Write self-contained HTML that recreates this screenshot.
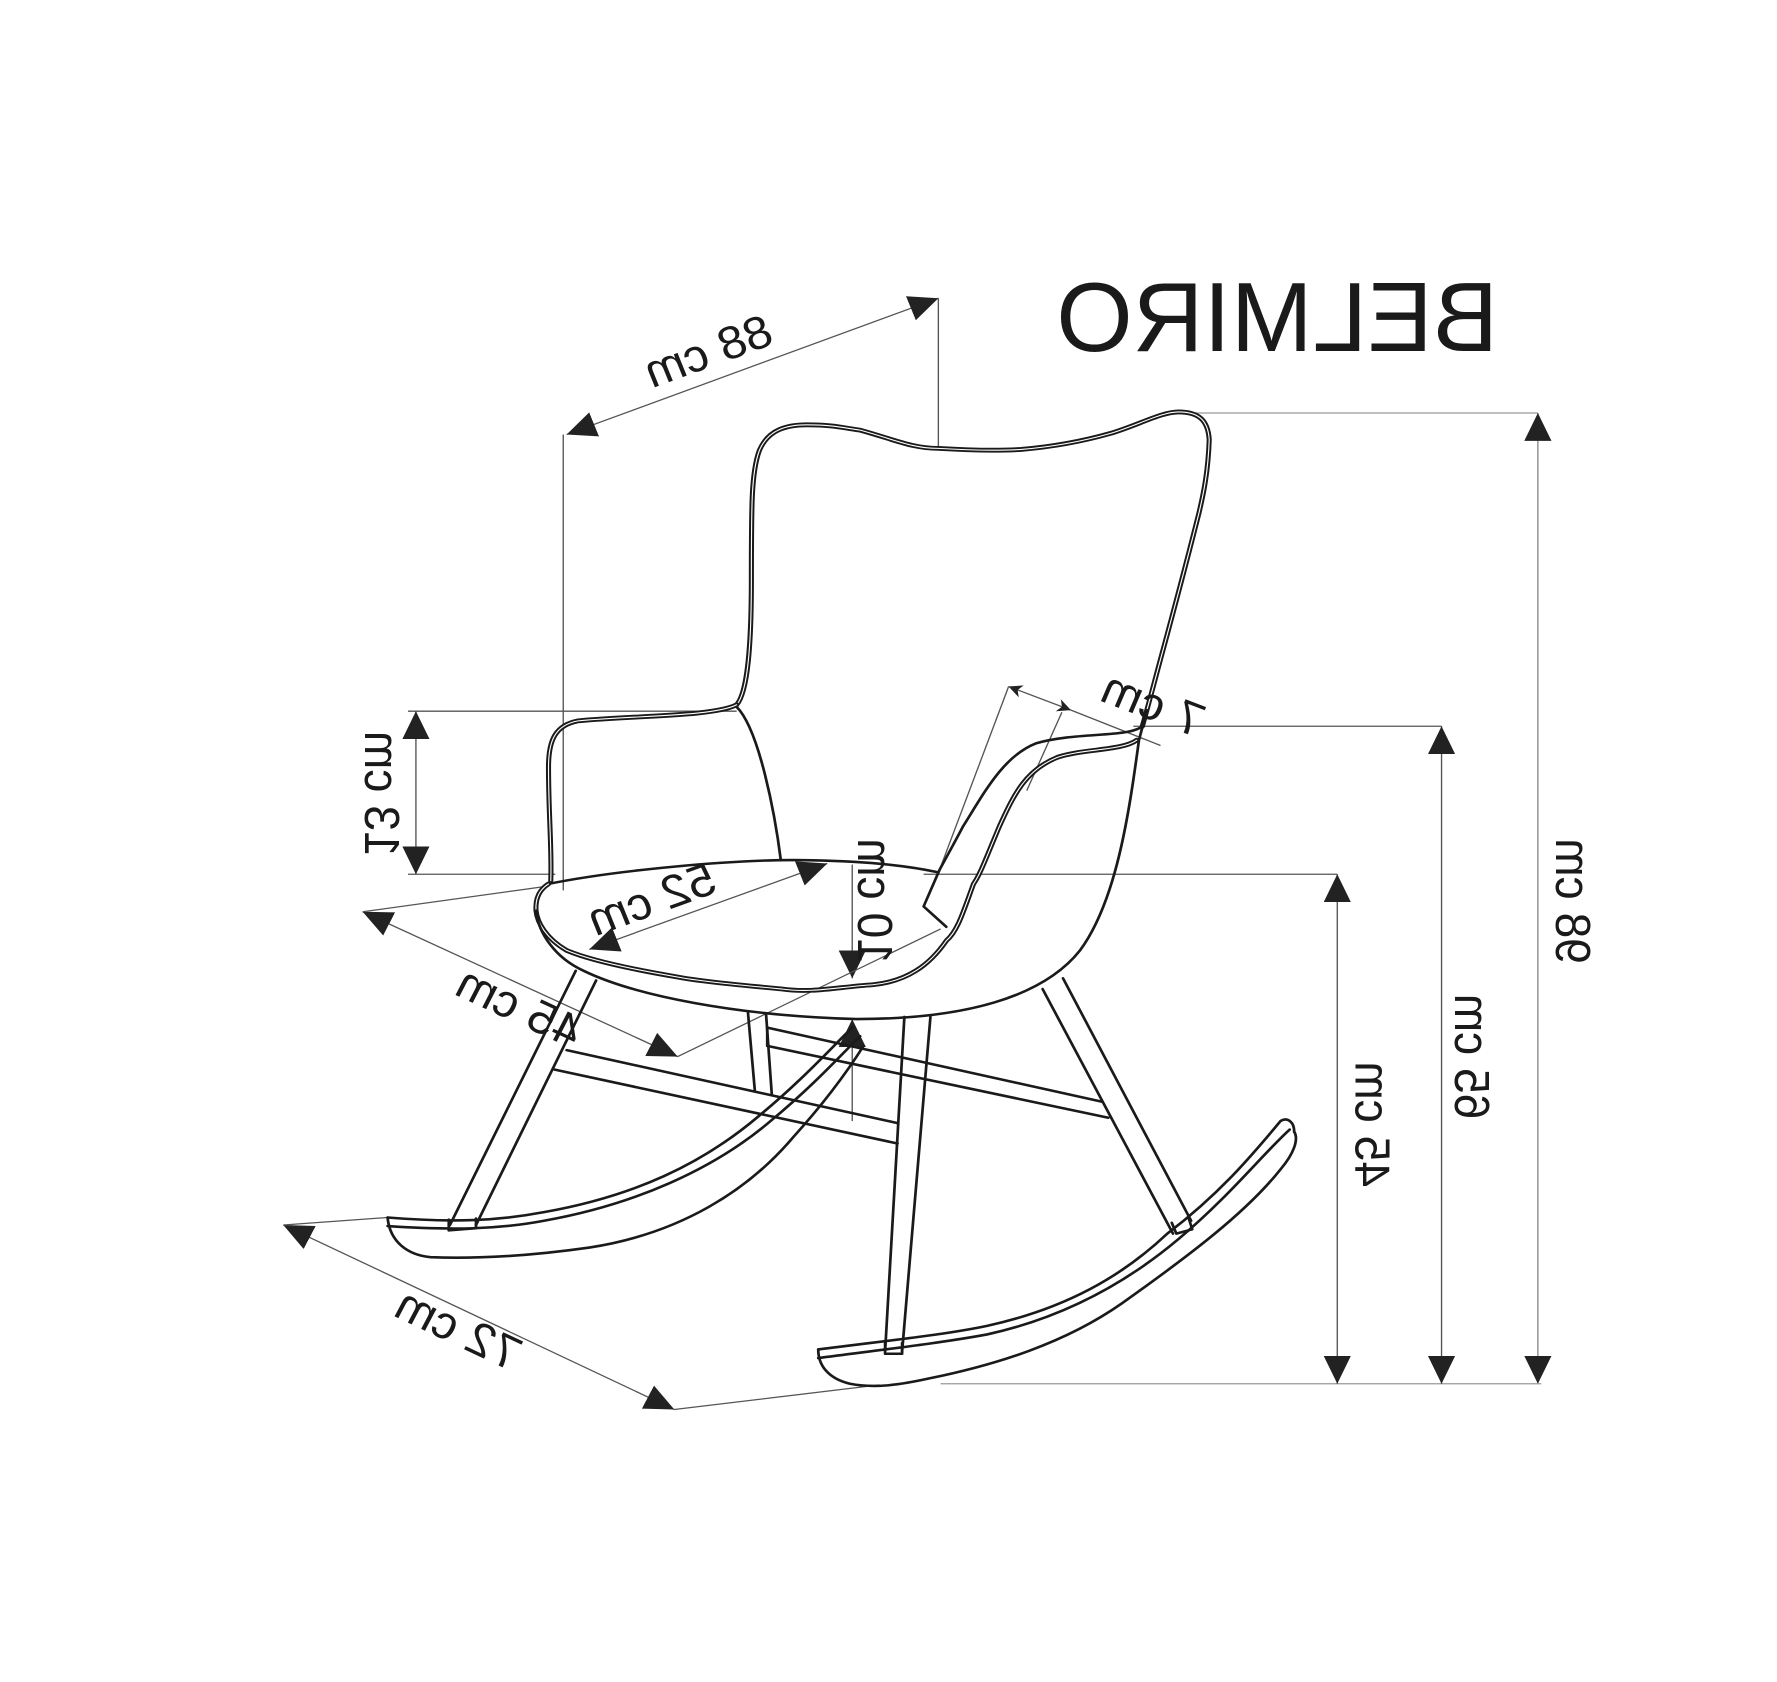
<!DOCTYPE html>
<html><head><meta charset="utf-8"><style>
html,body{margin:0;padding:0;background:#fff;}
svg{display:block;}
text{font-family:"Liberation Sans",Arial,sans-serif;fill:#1a1a1a;}
</style></head><body>
<svg width="1777" height="1682" viewBox="0 0 1777 1682" xmlns="http://www.w3.org/2000/svg">
<defs>
<marker id="a" viewBox="0 0 26 26" refX="26" refY="13" markerWidth="26" markerHeight="26" markerUnits="userSpaceOnUse" orient="auto-start-reverse">
<path d="M0,1 L26,13 L0,25 Z" fill="#222"/>
</marker>
<marker id="s" viewBox="0 0 14 14" refX="14" refY="7" markerWidth="12" markerHeight="12" markerUnits="userSpaceOnUse" orient="auto-start-reverse">
<path d="M0,0 L14,7 L0,14 L4,7 Z" fill="#222"/>
</marker>
</defs>
<rect width="1777" height="1682" fill="#fff"/>
<g transform="scale(1.13329,1.07270)">
<g stroke="#555" stroke-width="1.2" fill="none">
<line x1="500" y1="405" x2="828" y2="278" marker-start="url(#a)" marker-end="url(#a)"/>
<line x1="497" y1="405" x2="497" y2="830"/>
<line x1="828" y1="278" x2="828" y2="418"/>
<line x1="1050" y1="385" x2="1357" y2="385" stroke="#999"/>
<line x1="1357" y1="385" x2="1357" y2="1290" stroke="#888" marker-start="url(#a)" marker-end="url(#a)"/>
<line x1="830" y1="1290" x2="1360" y2="1290" stroke="#999"/>
<line x1="1000" y1="677" x2="1272" y2="677"/>
<line x1="1272" y1="677" x2="1272" y2="1290" marker-start="url(#a)" marker-end="url(#a)"/>
<line x1="815" y1="815" x2="1180" y2="815"/>
<line x1="1180" y1="815" x2="1180" y2="1290" marker-start="url(#a)" marker-end="url(#a)"/>
<line x1="360" y1="663" x2="650" y2="663"/>
<line x1="360" y1="815" x2="490" y2="815"/>
<line x1="367" y1="663" x2="367" y2="815" marker-start="url(#a)" marker-end="url(#a)"/>
<line x1="520" y1="885" x2="730" y2="805" marker-start="url(#a)" marker-end="url(#a)"/>
<line x1="752" y1="806" x2="752" y2="912" marker-end="url(#a)"/>
<line x1="752" y1="1045" x2="752" y2="950" marker-end="url(#a)"/>
<line x1="320" y1="850" x2="598" y2="985" marker-start="url(#a)" marker-end="url(#a)"/>
<line x1="598" y1="985" x2="830" y2="866"/>
<line x1="320" y1="850" x2="484" y2="826"/>
<line x1="250" y1="1142" x2="595" y2="1314" marker-start="url(#a)" marker-end="url(#a)"/>
<line x1="250" y1="1142" x2="342" y2="1135"/>
<line x1="595" y1="1314" x2="776" y2="1291"/>
<line x1="890" y1="640" x2="945" y2="662" marker-start="url(#s)" marker-end="url(#s)"/>
<line x1="945" y1="662" x2="1024" y2="695"/>
<line x1="890" y1="640" x2="829" y2="811"/>
<line x1="937" y1="664" x2="906" y2="737"/>
</g>
<g stroke="#1a1a1a" stroke-width="2.4" fill="none" stroke-linejoin="round" stroke-linecap="round">
<path d="M650,657 C660,645 663,600 663,540 C663,470 663,440 670,420 C678,400 695,396 712,396 C735,396 745,399 759,401 C790,410 805,418 828,418 C860,420 885,420 901,419 C935,416 960,410 980,404 C1005,396 1025,384 1040,384 C1058,384 1066,392 1067,410 C1066,440 1062,460 1058,478 C1048,520 1038,560 1027,603 C1020,630 1014,655 1008,677" stroke-width="4.5"/>
<path d="M650,657 C660,645 663,600 663,540 C663,470 663,440 670,420 C678,400 695,396 712,396 C735,396 745,399 759,401 C790,410 805,418 828,418 C860,420 885,420 901,419 C935,416 960,410 980,404 C1005,396 1025,384 1040,384 C1058,384 1066,392 1067,410 C1066,440 1062,460 1058,478 C1048,520 1038,560 1027,603 C1020,630 1014,655 1008,677" stroke="#fff" stroke-width="1"/>
<path d="M650,657 C630,668 560,667 510,672 C490,676 484,690 484,715 C484,760 487,790 486,821" stroke-width="4.5"/>
<path d="M650,657 C630,668 560,667 510,672 C490,676 484,690 484,715 C484,760 487,790 486,821" stroke="#fff" stroke-width="1"/>
<path d="M650,659 C670,680 684,760 689,802"/>
<path d="M484,824 C540,812 650,800 717,802 C770,803 805,808 827,813"/>
<path d="M1008,677 C995,688 950,682 914,693 C885,705 868,740 850,770 C840,790 832,805 829,811 L815,845 L835,864"/>
<path d="M1003,690 C990,700 955,698 933,706 C905,718 895,740 882,770 C870,800 865,815 859,824 C850,850 845,868 835,877 C820,900 800,915 770,918 C740,920 717,926 690,922 C650,918 620,915 599,911 C560,904 520,895 500,886 C482,875 474,860 473,849 C472,835 478,828 484,824" stroke-width="4.5"/>
<path d="M1003,690 C990,700 955,698 933,706 C905,718 895,740 882,770 C870,800 865,815 859,824 C850,850 845,868 835,877 C820,900 800,915 770,918 C740,920 717,926 690,922 C650,918 620,915 599,911 C560,904 520,895 500,886 C482,875 474,860 473,849 C472,835 478,828 484,824" stroke="#fff" stroke-width="1"/>
<path d="M1012,662 L1005,690 C996,760 985,840 953,886 C920,930 850,950 756,950 C650,947 560,928 515,905 C490,893 475,870 473,849"/>
<path d="M508,905 L397,1142 M526,914 L420,1142"/>
<path d="M660,944 L666,1016 M676,946 L681,1020"/>
<path d="M798,948 L781,1260 M821,948 L796,1260"/>
<path d="M920,922 L1035,1150 M938,912 L1051,1138"/>
<path d="M500,979 L792,1047 M489,997 L792,1066"/>
<path d="M677,958 L972,1027 M677,975 L978,1042 M677,958 L677,975"/>
<path d="M342,1135 C400,1140 440,1138 480,1130 C560,1115 620,1085 670,1040 C710,1005 735,975 753,957"/>
<path d="M342,1143 C400,1147 440,1146 480,1138 C560,1123 630,1090 680,1045 C720,1010 745,980 759,966"/>
<path d="M342,1135 C344,1158 360,1170 380,1172 C430,1174 480,1169 520,1163 C600,1150 660,1110 700,1060 C730,1025 750,995 762,975"/>
<path d="M396,1137 L396,1147 L420,1145 L420,1136"/>
<path d="M722,1258 C780,1250 830,1245 871,1236 C940,1220 990,1190 1030,1150 C1080,1110 1110,1070 1130,1045 C1136,1041 1142,1046 1142,1055"/>
<path d="M722,1266 C780,1258 830,1252 871,1244 C940,1228 995,1195 1040,1155 C1085,1115 1115,1075 1138,1053"/>
<path d="M722,1258 C722,1272 730,1285 750,1290 C770,1294 790,1292 820,1285 C880,1272 940,1252 990,1215 C1050,1170 1100,1130 1130,1090 C1142,1075 1146,1062 1142,1055"/>
<path d="M781,1252 L781,1262 L796,1262 L796,1252"/>
<path d="M1034,1140 L1038,1150 L1052,1146 L1049,1136"/>
</g>
<text x="0" y="0" font-size="92" text-anchor="middle" textLength="390" lengthAdjust="spacingAndGlyphs" transform="translate(1127,327) scale(-1,1)">BELMIRO</text>
<text font-size="43" text-anchor="middle" transform="translate(630,341) rotate(-21) scale(-1,1)">88 cm</text>
<text font-size="43" text-anchor="middle" transform="translate(580,852) rotate(-21) scale(-1,1)">52 cm</text>
<text font-size="43" text-anchor="middle" transform="translate(452,952) rotate(26) scale(-1,1)">45 cm</text>
<text font-size="43" text-anchor="middle" transform="translate(398,1252) rotate(26.5) scale(-1,1)">72 cm</text>
<text font-size="43" text-anchor="middle" transform="translate(1012,670) rotate(22) scale(-1,1)">7 cm</text>
<text font-size="43" text-anchor="middle" transform="translate(1373,840) scale(-1,1) rotate(-90)">98 cm</text>
<text font-size="43" text-anchor="middle" transform="translate(1284,985) scale(-1,1) rotate(-90)">65 cm</text>
<text font-size="43" text-anchor="middle" transform="translate(1196,1048) scale(-1,1) rotate(-90)">45 cm</text>
<text font-size="43" text-anchor="middle" transform="translate(322,740) scale(-1,1) rotate(-90)">13 cm</text>
<text font-size="43" text-anchor="middle" transform="translate(757,840) scale(-1,1) rotate(-90)">10 cm</text>
</g>
</svg>
</body></html>
